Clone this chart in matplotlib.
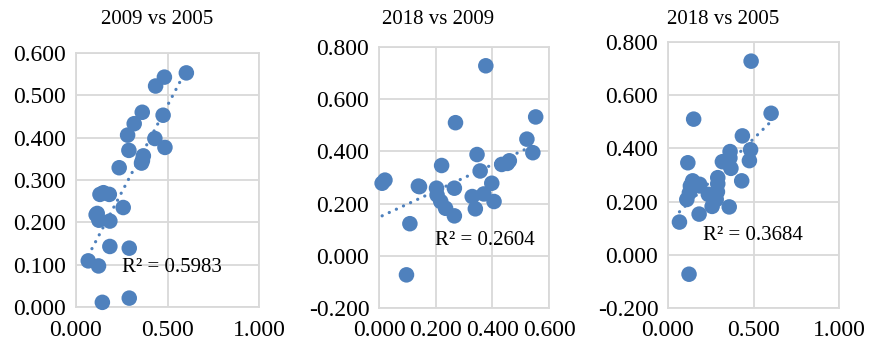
import matplotlib
matplotlib.use("Agg")
import matplotlib.pyplot as plt
import numpy as np
from matplotlib.ticker import FuncFormatter, MultipleLocator

plt.rcParams['font.family'] = ['Liberation Serif', 'DejaVu Serif']
plt.rcParams['axes.unicode_minus'] = False

# values per item for the three years
v2005 = [0.603, 0.483, 0.435, 0.362, 0.476, 0.318, 0.282, 0.431, 0.486, 0.289,
         0.368, 0.363, 0.358, 0.236, 0.150, 0.131, 0.182, 0.258, 0.116, 0.110,
         0.125, 0.185, 0.185, 0.291, 0.067, 0.123, 0.144, 0.291]
v2009 = [0.553, 0.543, 0.522, 0.460, 0.453, 0.433, 0.406, 0.398, 0.377, 0.370,
         0.357, 0.346, 0.340, 0.329, 0.270, 0.266, 0.266, 0.235, 0.221, 0.218,
         0.205, 0.203, 0.143, 0.139, 0.109, 0.097, 0.011, 0.021]
v2018 = [0.532, 0.395, 0.447, 0.364, 0.354, 0.350, 0.208, 0.278, 0.728, 0.237,
         0.325, 0.388, 0.180, 0.227, 0.510, 0.259, 0.153, 0.182, 0.346, 0.208,
         0.233, 0.259, 0.265, 0.267, 0.123, -0.073, 0.278, 0.290]

titles = ["2009 vs 2005", "2018 vs 2009", "2018 vs 2005"]
r2_labels = ["R\u00b2 = 0.5983", "R\u00b2 = 0.2604", "R\u00b2 = 0.3684"]

W, H = 869, 346
fig = plt.figure(figsize=(W / 100, H / 100), dpi=100)

BLUE = '#4F81BD'
GRID = '#D9D9D9'

panels = [
    dict(x=v2005, y=v2009, box=(76, 259, 53, 307), xlim=(0, 1), xstep=0.5,
         ylim=(0, 0.6), ystep=0.1, title_x=157, r2=(0.251, 0.157)),
    dict(x=v2009, y=v2018, box=(379, 549, 47, 308), xlim=(0, 0.6), xstep=0.2,
         ylim=(-0.2, 0.8), ystep=0.2, title_x=438, r2=(0.329, 0.257)),
    dict(x=v2005, y=v2018, box=(668, 839, 42, 308), xlim=(0, 1), xstep=0.5,
         ylim=(-0.2, 0.8), ystep=0.2, title_x=723, r2=(0.205, 0.271)),
]

fmt = FuncFormatter(lambda v, p: f"{v:.3f}")

for i, p in enumerate(panels):
    l, r, t, b = p['box']
    ax = fig.add_axes([l / W, (H - b) / H, (r - l) / W, (b - t) / H])
    x = np.array(p['x'])
    y = np.array(p['y'])
    ax.set_xlim(*p['xlim'])
    ax.set_ylim(*p['ylim'])
    ax.xaxis.set_major_locator(MultipleLocator(p['xstep']))
    ax.yaxis.set_major_locator(MultipleLocator(p['ystep']))
    ax.xaxis.set_major_formatter(fmt)
    ax.yaxis.set_major_formatter(fmt)
    ax.grid(True, color=GRID, linewidth=1.3, zorder=0)
    ax.set_axisbelow(True)
    for s in ax.spines.values():
        s.set_color(GRID)
        s.set_linewidth(1.3)
    ax.tick_params(length=0, labelsize=17, colors='black')
    ax.tick_params(axis='y', pad=7)
    ax.tick_params(axis='x', pad=9)

    # linear trendline
    k, c0 = np.polyfit(x, y, 1)
    xs = np.linspace(x.min(), x.max(), 50)
    ax.plot(xs, k * xs + c0, color=BLUE, linewidth=2.3,
            linestyle=(0, (0.05, 2.4)), dash_capstyle='round', zorder=2)
    ax.scatter(x, y, s=125, color=BLUE, edgecolors='none', zorder=3, clip_on=False)

    ax.text(p['r2'][0], p['r2'][1], r2_labels[i], transform=ax.transAxes,
            fontsize=15, ha='left', va='center', zorder=4)
    fig.text(p['title_x'] / W, 1 - 19 / H, titles[i], fontsize=15,
             ha='center', va='center')

fig.savefig('out.png', dpi=100)
